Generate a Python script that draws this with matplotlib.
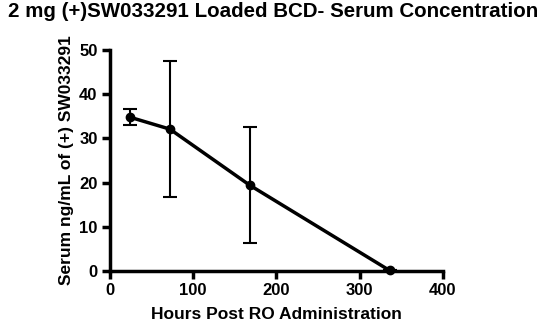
import numpy as np
import matplotlib
matplotlib.use('Agg')
import matplotlib.pyplot as plt

plt.rcParams['font.family'] = ['Liberation Sans', 'DejaVu Sans']
plt.rcParams['font.weight'] = 'bold'

hours = [24, 72, 168, 336]
conc = [34.8, 32.1, 19.4, 0.1]
err = [1.8, 15.4, 13.1, 0.0]

fig = plt.figure(figsize=(5.5, 3.34), dpi=100)
ax = fig.add_axes([0.2, 0.189, 0.605, 0.661])

ax.errorbar(hours, conc, yerr=err, color='black', lw=2.5, marker='o', ms=6,
            ecolor='black', elinewidth=1.5, capsize=5, capthick=1.5, clip_on=False, zorder=3)

ax.set_xlim(0, 400)
ax.set_ylim(0, 50)
ax.set_xticks([0, 100, 200, 300, 400])
ax.set_yticks([0, 10, 20, 30, 40, 50])

for s in ['top', 'right']:
    ax.spines[s].set_visible(False)
for s in ['left', 'bottom']:
    ax.spines[s].set_linewidth(2.5)
ax.tick_params(width=2.5, length=6, labelsize=12, pad=3)
for lab in ax.get_xticklabels() + ax.get_yticklabels():
    lab.set_fontweight('bold')

ax.set_xlabel('Hours Post RO Administration', fontsize=12.5, fontweight='bold', labelpad=6)
ax.set_ylabel('Serum ng/mL of (+) SW033291', fontsize=12.5, fontweight='bold', labelpad=4)
fig.suptitle('2 mg (+)SW033291 Loaded BCD- Serum Concentration', fontsize=14.8,
             fontweight='bold', x=0.497, y=0.995)

fig.savefig('out.png', dpi=100)
